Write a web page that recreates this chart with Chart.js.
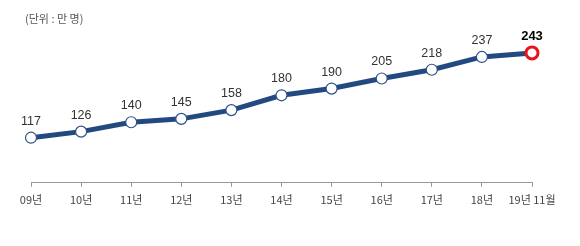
<!DOCTYPE html>
<html>
<head>
<meta charset="utf-8">
<script src="https://cdn.jsdelivr.net/npm/chart.js@4/dist/chart.umd.min.js"></script>
<style>
html,body{margin:0;padding:0;background:#fff;}
#wrap{position:relative;width:580px;height:246px;}
#unit{position:absolute;left:25px;top:10px;font-family:"Noto Sans CJK KR","Noto Sans",sans-serif;font-size:11px;color:#555;}
</style>
</head>
<body>
<div id="wrap">
<canvas id="c" width="580" height="246"></canvas>
<div id="unit">(단위 : 만 명)</div>
</div>
<script>
const categories = ["09년","10년","11년","12년","13년","14년","15년","16년","17년","18년","19년 11월"];
const values = [117,126,140,145,158,180,190,205,218,237,243];

const lastIdx = values.length - 1;
const pointBorder = values.map((v,i)=> i===lastIdx ? "#E8141C" : "#2D5186");
const pointRadius = values.map((v,i)=> i===lastIdx ? 6 : 5.5);
const pointBW = values.map((v,i)=> i===lastIdx ? 3 : 1.2);

const labelPlugin = {
  id:"labels",
  afterDatasetsDraw(chart){
    const ctx = chart.ctx;
    const meta = chart.getDatasetMeta(0);
    ctx.save();
    ctx.textAlign = "center";
    ctx.textBaseline = "alphabetic";
    meta.data.forEach((pt,i)=>{
      if(i===lastIdx){
        ctx.font = "bold 13px 'Liberation Sans', Arial, sans-serif";
        ctx.fillStyle = "#000";
      } else {
        ctx.font = "12.5px 'Liberation Sans', Arial, sans-serif";
        ctx.fillStyle = "#333";
      }
      ctx.fillText(String(values[i]), pt.x, pt.y - 13);
    });
    ctx.restore();
  }
};

new Chart(document.getElementById("c"), {
  type:"line",
  data:{
    labels:categories,
    datasets:[{
      data:values,
      borderColor:"#234A80",
      borderWidth:5,
      tension:0,
      pointBackgroundColor:"#fff",
      pointBorderColor:pointBorder,
      pointBorderWidth:pointBW,
      pointRadius:pointRadius
    }]
  },
  options:{
    responsive:false,
    animation:false,
    devicePixelRatio:1,
    layout:{padding:{left:31,right:48,top:28,bottom:34}},
    plugins:{legend:{display:false},tooltip:{enabled:false}},
    scales:{
      x:{
        offset:false,
        grid:{display:true,drawOnChartArea:false,drawTicks:true,tickLength:4,color:"#999"},
        border:{display:true,color:"#999",width:1},
        ticks:{color:"#444",padding:6,maxRotation:0,autoSkip:false,font:{family:"'Noto Sans CJK KR','Noto Sans',sans-serif",size:11}}
      },
      y:{display:false,min:50,max:280}
    }
  },
  plugins:[labelPlugin]
});
</script>
</body>
</html>
